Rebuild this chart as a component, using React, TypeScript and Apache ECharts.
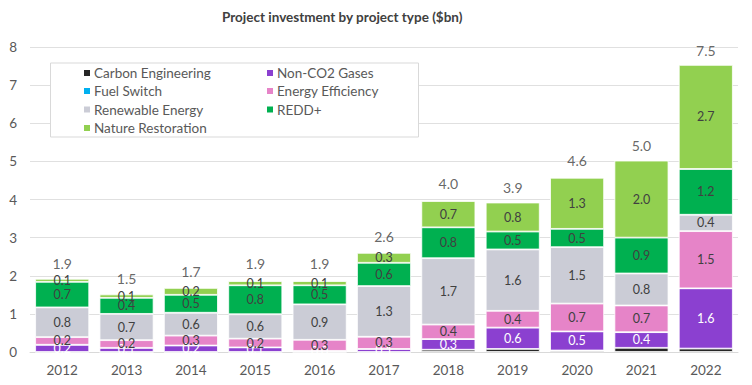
import React, { useEffect, useRef } from "react";
import * as echarts from "echarts";

const years = ["2012", "2013", "2014", "2015", "2016", "2017", "2018", "2019", "2020", "2021", "2022"];
const carbonEngineering = [0, 0, 0, 0, 0, 0, 0.06, 0.08, 0.04, 0.11, 0.09];
const nonCO2Gases = [0.19, 0.11, 0.17, 0.12, 0.03, 0.08, 0.28, 0.56, 0.5, 0.41, 1.58];
const fuelSwitch = [0, 0, 0, 0, 0, 0, 0, 0, 0, 0, 0];
const energyEfficiency = [0.2, 0.2, 0.26, 0.23, 0.29, 0.32, 0.38, 0.44, 0.73, 0.7, 1.5];
const renewableEnergy = [0.78, 0.69, 0.6, 0.64, 0.93, 1.33, 1.74, 1.61, 1.48, 0.84, 0.43];
const reddPlus = [0.67, 0.42, 0.47, 0.76, 0.5, 0.61, 0.81, 0.47, 0.48, 0.94, 1.2];
const natureRestoration = [0.08, 0.09, 0.18, 0.11, 0.11, 0.26, 0.69, 0.76, 1.34, 2.02, 2.73];
const yTicks = [0, 1, 2, 3, 4, 5, 6, 7, 8];

const FONT = "Lato, 'Noto Sans', sans-serif";
const TEXT = "#595959";
const LABEL = "#404040";

const seriesDefs = [
  { name: "Carbon Engineering", data: carbonEngineering, color: "#262626", label: false, labelColor: LABEL },
  { name: "Non-CO2 Gases", data: nonCO2Gases, color: "#8b40d0", label: true, labelColor: "#ffffff" },
  { name: "Fuel Switch", data: fuelSwitch, color: "#00b0f0", label: false, labelColor: LABEL },
  { name: "Energy Efficiency", data: energyEfficiency, color: "#e684c8", label: true, labelColor: LABEL },
  { name: "Renewable Energy", data: renewableEnergy, color: "#cbccd6", label: true, labelColor: LABEL },
  { name: "REDD+", data: reddPlus, color: "#00b050", label: true, labelColor: LABEL },
  { name: "Nature Restoration", data: natureRestoration, color: "#92d050", label: true, labelColor: LABEL },
];

const legendPos: Record<string, [number, number]> = {
  "Carbon Engineering": [82, 64],
  "Non-CO2 Gases": [265, 64],
  "Fuel Switch": [82, 82],
  "Energy Efficiency": [265, 82],
  "Renewable Energy": [82, 100.5],
  "REDD+": [265, 100.5],
  "Nature Restoration": [82, 119],
};

export default function App() {
  const ref = useRef<HTMLDivElement>(null);
  useEffect(() => {
    if (!ref.current) return;
    const chart = echarts.init(ref.current, null, { renderer: "svg" });
    const totals = years.map((_, i) =>
      Math.round(seriesDefs.reduce((s, d) => s + d.data[i], 0) * 10 + 1e-9) / 10
    );
    const series: any[] = seriesDefs.map((d) => ({
      name: d.name,
      type: "bar",
      stack: "total",
      barWidth: 54,
      data: d.data,
      itemStyle: { color: d.color, borderColor: "#ffffff", borderWidth: 0.8 },
      label: {
        show: d.label,
        position: "inside",
        color: d.labelColor,
        fontFamily: FONT,
        fontSize: 12.5,
        formatter: (p: any) => Number(p.value).toFixed(1),
      },
      emphasis: { disabled: true },
    }));
    series.push({
      name: "Total",
      type: "scatter",
      data: totals,
      symbolSize: 0,
      silent: true,
      label: {
        show: true,
        position: "top",
        distance: 9,
        color: LABEL,
        fontFamily: FONT,
        fontSize: 14,
        formatter: (p: any) => Number(p.value).toFixed(1),
      },
    });
    const legends = seriesDefs.map((d) => ({
      data: [d.name],
      left: legendPos[d.name][0],
      top: legendPos[d.name][1],
      orient: "horizontal",
      padding: 0,
      itemWidth: 8,
      itemHeight: 8,
      icon: "rect",
      selectedMode: false,
      textStyle: { color: TEXT, fontFamily: FONT, fontSize: 13.5, lineHeight: 18, padding: [0, 0, 0, -2] },
    }));
    chart.setOption({
      animation: false,
      title: {
        text: "Project investment by project type ($bn)",
        left: 217,
        top: 5,
        textStyle: { color: LABEL, fontFamily: FONT, fontSize: 13.5, fontWeight: "bold" },
      },
      graphic: [
        {
          type: "rect",
          shape: { x: 50.5, y: 63, width: 368, height: 74 },
          style: { fill: "#ffffff", stroke: "#d9d9d9", lineWidth: 1 },
          z: 10,
        },
      ],
      legend: legends.map((l) => ({ ...l, z: 20 })),
      grid: { left: 30, right: 14, top: 47, bottom: 33 },
      xAxis: {
        type: "category",
        data: years,
        axisTick: { show: false },
        axisLine: { show: true, lineStyle: { color: "#d9d9d9" } },
        axisLabel: { color: TEXT, fontFamily: FONT, fontSize: 13.5, margin: 11 },
      },
      yAxis: {
        type: "value",
        min: yTicks[0],
        max: yTicks[yTicks.length - 1],
        interval: 1,
        axisLine: { show: false },
        axisTick: { show: false },
        splitLine: { lineStyle: { color: "#e0e0e0", width: 1 } },
        axisLabel: { color: TEXT, fontFamily: FONT, fontSize: 13.5, margin: 13 },
      },
      series,
    });
    return () => chart.dispose();
  }, []);
  return <div ref={ref} style={{ width: 752, height: 385, position: "absolute", left: 0, top: 0 }} />;
}
